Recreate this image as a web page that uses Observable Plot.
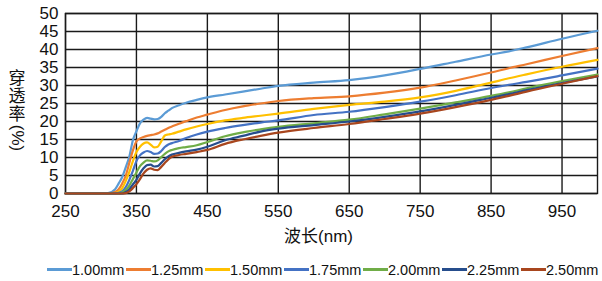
<!DOCTYPE html>
<html>
<head>
<meta charset="utf-8">
<script src="https://cdn.jsdelivr.net/npm/d3@7"></script>
<script src="https://cdn.jsdelivr.net/npm/@observablehq/plot@0.6"></script>
<style>
  html, body { margin: 0; padding: 0; background: #fff; }
  #chart { position: relative; width: 602px; height: 281px; font-family: "Liberation Sans", Arial, "Noto Sans CJK SC", sans-serif; overflow: hidden; }
  #ytitle { position: absolute; left: 7px; top: 70px; width: 20px; display: flex; flex-direction: column; align-items: center; font-size: 17px; color: #111; }
  #ytitle .ch { line-height: 18px; height: 18px; }
  #ytitle .rot { position: relative; width: 20px; height: 28px; }
  #ytitle .rot span { position: absolute; left: 50%; top: 50%; transform: translate(-50%, -50%) rotate(90deg); white-space: nowrap; line-height: 17px; }
  #legend { position: absolute; left: 47px; top: 258px; height: 23px; display: flex; align-items: center; }
  .item { display: flex; align-items: center; width: 79px; }
  .sw { width: 25px; height: 2.5px; flex: none; }
  .lb { font-size: 14.5px; color: #111; white-space: nowrap; }
</style>
</head>
<body>
<div id="chart"></div>
<script>
const wavelengths = [250,300,310,320,325,330,335,340,345,350,355,360,365,370,375,380,385,390,395,400,410,420,435,450,475,500,525,550,600,650,700,750,800,850,875,900,950,1000];
const seriesNames = ["1.00mm","1.25mm","1.50mm","1.75mm","2.00mm","2.25mm","2.50mm"];
const seriesColors = ["#5B9BD5","#ED7D31","#FFC000","#4472C4","#70AD47","#264D8C","#A8461E"];
const t100 = [0,0,0.1,1.2,2.8,4.6,7.3,10.3,14.8,17.3,19.5,20.5,21,20.8,20.6,20.7,21.3,22.3,23,23.7,24.5,25.2,26,26.7,27.5,28.3,29.1,29.9,30.8,31.5,32.8,34.6,36.6,38.6,39.5,40.6,43,45.2];
const t125 = [0,0,0,0.4,1.2,2.8,5,8.5,12,14.5,15.3,15.7,16,16.2,16.4,16.7,17.2,17.7,18.2,18.6,19.4,20.1,21.1,21.9,23.2,24.2,25,25.7,26.5,27,28,29.4,31.4,33.6,34.8,35.9,38.2,40.4];
const t150 = [0,0,0,0.1,0.5,1.5,3.5,6,9,11.5,13,13.9,14.2,13.6,12.8,13,14.5,16.1,16.4,16.6,17.2,17.8,18.6,19.3,20.3,21,21.6,22.2,23.5,24.6,25.5,26.7,28.5,30.8,32,33.1,35.2,37.1];
const t175 = [0,0,0,0,0.2,0.6,1.8,3.8,6.3,9,10.6,11.4,11.8,11.5,11,11.1,11.8,12.9,13.6,14,14.6,15.4,16.4,17.2,18.2,19,19.7,20.3,21.8,22.7,24,25.5,27.3,29.3,30.2,31,32.8,34.7];
const t200 = [0,0,0,0,0,0.3,1,2.2,4,5.8,7.6,8.6,9.2,9.1,8.9,9.2,10.1,11,11.7,12.1,12.6,12.9,13.4,14.3,15.9,17,17.8,18.5,19.5,20.5,22,23.6,25.3,27.1,28.1,29.2,31.2,33];
const t225 = [0,0,0,0,0,0,0.4,1.2,2.5,3.8,5.6,7,7.9,8,7.5,7.6,8.5,9.5,10.3,10.8,11.3,11.7,12.2,13,14.8,16,17.2,18,19,20,21.3,22.8,24.6,26.6,27.6,28.7,30.7,32.5];
const t250 = [0,0,0,0,0,0,0.1,0.6,1.5,2.6,4,5.6,6.6,7,6.6,6.5,7.4,8.5,9.5,10.2,10.7,11,11.5,12.1,13.8,15,16,16.9,18.2,19.3,20.7,22.2,24,26,27.1,28.3,30.5,32.6];
const xTicks = [250,350,450,550,650,750,850,950];
const yTicks = [0,5,10,15,20,25,30,35,40,45,50];
const xLabel = "波长(nm)";
const yLabel = "穿透率(%)";

const allSeries = [t100,t125,t150,t175,t200,t225,t250];
const data = [];
allSeries.forEach((vals, i) => vals.forEach((v, j) => data.push({wl: wavelengths[j], t: v, s: seriesNames[i]})));

const font = '"Liberation Sans", Arial, "Noto Sans CJK SC", sans-serif';
const plot = Plot.plot({
  width: 602,
  height: 258,
  marginLeft: 65,
  marginRight: 5,
  marginTop: 13,
  marginBottom: 65,
  style: {fontFamily: font, color: "#111", background: "#fff"},
  x: {domain: [250, 1000]},
  y: {domain: [0, 50]},
  color: {domain: seriesNames, range: seriesColors},
  marks: [
    Plot.gridX(xTicks, {stroke: "#1a1a1a", strokeOpacity: 1, strokeWidth: 1.4}),
    Plot.gridY(yTicks, {stroke: "#1a1a1a", strokeOpacity: 1, strokeWidth: 1.4}),
    Plot.frame({stroke: "#1a1a1a", strokeWidth: 1.4}),
    Plot.axisX({ticks: xTicks, tickSize: 0, tickPadding: 11, fontSize: 17, label: null}),
    Plot.axisY({ticks: yTicks, tickSize: 0, tickPadding: 7, fontSize: 17, label: null}),
    Plot.line(data, {x: "wl", y: "t", z: "s", stroke: "s", strokeWidth: 2.2, curve: "monotone-x"}),
    Plot.text([xLabel], {frameAnchor: "bottom", dx: -13, dy: 48, fontSize: 17, fill: "#111"})
  ]
});
const chart = document.getElementById("chart");
chart.appendChild(plot);

// vertical Y title: CJK characters upright and stacked, the ASCII run turned sideways
const yt = document.createElement("div");
yt.id = "ytitle";
const m = yLabel.match(/^([^\x00-\x7F]+)(.*)$/);
Array.from(m[1]).forEach(c => {
  const d = document.createElement("div"); d.className = "ch"; d.textContent = c; yt.appendChild(d);
});
if (m[2]) {
  const r = document.createElement("div"); r.className = "rot";
  const s = document.createElement("span"); s.textContent = m[2];
  r.appendChild(s); yt.appendChild(r);
}
chart.appendChild(yt);

// legend
const legend = document.createElement("div");
legend.id = "legend";
seriesNames.forEach((n, i) => {
  const it = document.createElement("div"); it.className = "item";
  const sw = document.createElement("div"); sw.className = "sw"; sw.style.background = seriesColors[i];
  const lb = document.createElement("span"); lb.className = "lb"; lb.textContent = n;
  it.appendChild(sw); it.appendChild(lb); legend.appendChild(it);
});
chart.appendChild(legend);
</script>
</body>
</html>
